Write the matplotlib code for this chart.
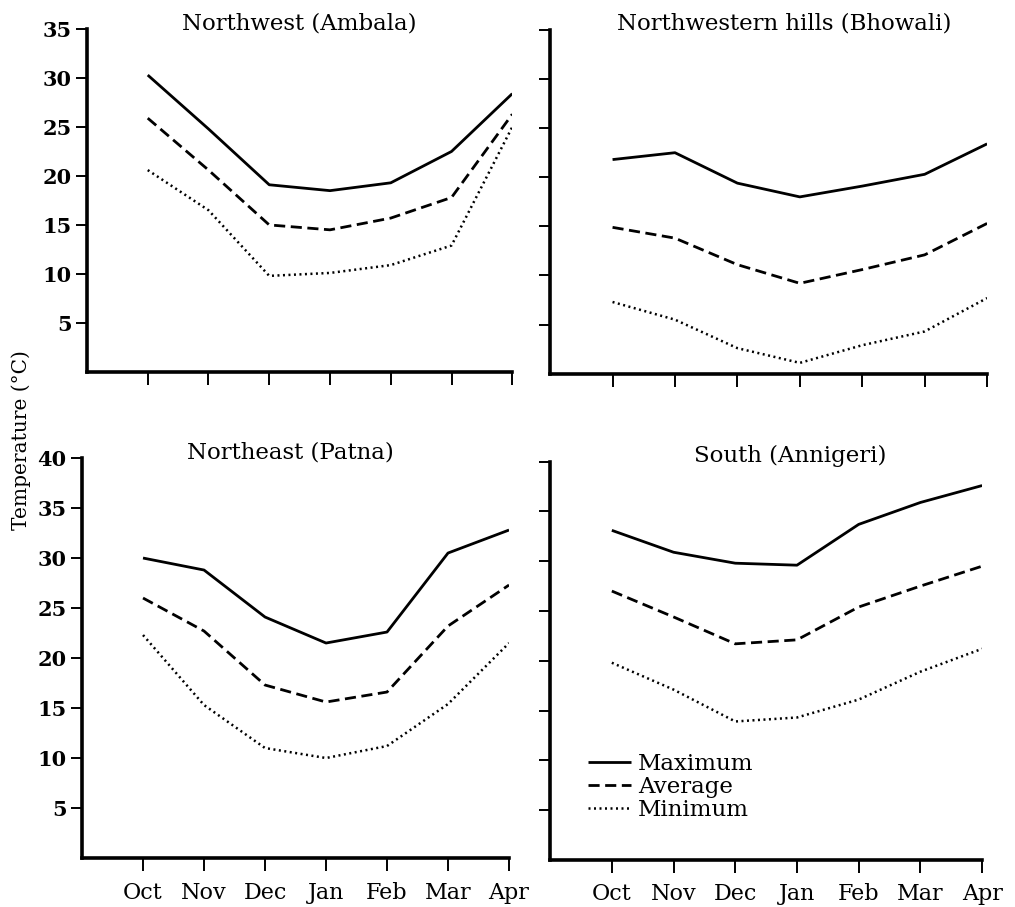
import matplotlib
matplotlib.use("Agg")
import matplotlib.pyplot as plt

plt.rcParams['font.family'] = ['DejaVu Serif']

months = ['Oct', 'Nov', 'Dec', 'Jan', 'Feb', 'Mar', 'Apr']

# Northwest (Ambala)
ambala_max = [30.3, 24.8, 19.1, 18.5, 19.3, 22.5, 28.4]
ambala_avg = [25.9, 20.6, 15.0, 14.5, 15.7, 17.8, 26.3]
ambala_min = [20.6, 16.5, 9.8, 10.1, 10.9, 12.9, 25.0]

# Northwestern hills (Bhowali)
bhowali_max = [21.8, 22.5, 19.4, 18.0, 19.1, 20.3, 23.4]
bhowali_avg = [14.9, 13.8, 11.1, 9.2, 10.6, 12.1, 15.3]
bhowali_min = [7.3, 5.5, 2.6, 1.1, 2.9, 4.3, 7.7]

# Northeast (Patna)
patna_max = [30.0, 28.8, 24.1, 21.5, 22.6, 30.5, 32.8]
patna_avg = [26.0, 22.7, 17.3, 15.6, 16.6, 23.2, 27.3]
patna_min = [22.3, 15.3, 11.0, 10.0, 11.2, 15.4, 21.5]

# South (Annigeri)
annigeri_max = [33.1, 30.9, 29.8, 29.6, 33.7, 35.9, 37.6]
annigeri_avg = [27.0, 24.4, 21.7, 22.1, 25.4, 27.5, 29.5]
annigeri_min = [19.8, 17.1, 13.9, 14.3, 16.1, 18.9, 21.2]

fig = plt.figure(figsize=(10.15, 9.07), dpi=100)

panels = [
    # rect, title, title x, ymax, data, y labels, x labels
    ([0.0857, 0.590, 0.419, 0.378], 'Northwest (Ambala)', 0.50, 35,
     (ambala_max, ambala_avg, ambala_min), True, False),
    ([0.542, 0.588, 0.4305, 0.379], 'Northwestern hills (Bhowali)', 0.535, 35,
     (bhowali_max, bhowali_avg, bhowali_min), False, False),
    ([0.0808, 0.054, 0.4207, 0.441], 'Northeast (Patna)', 0.487, 40,
     (patna_max, patna_avg, patna_min), True, True),
    ([0.542, 0.052, 0.4256, 0.439], 'South (Annigeri)', 0.556, 40,
     (annigeri_max, annigeri_avg, annigeri_min), False, True),
]

x = list(range(len(months)))
for rect, title, tx, ymax, (mx, av, mn), ylab, xlab in panels:
    ax = fig.add_axes(rect)
    ax.plot(x, mx, color='black', lw=2.0, solid_capstyle='butt', label='Maximum')
    ax.plot(x, av, color='black', lw=2.0, dashes=(4, 2), label='Average')
    ax.plot(x, mn, color='black', lw=1.8, dashes=(0.8, 1.4), label='Minimum')
    ax.set_xlim(-1, 6)
    ax.set_ylim(0, ymax)
    ax.spines['top'].set_visible(False)
    ax.spines['right'].set_visible(False)
    ax.spines['left'].set_linewidth(2.6)
    ax.spines['bottom'].set_linewidth(2.6)
    ax.set_yticks(range(5, ymax + 1, 5))
    ax.set_xticks(x)
    ax.tick_params(axis='y', length=8, width=1.4, pad=3, labelsize=15)
    ax.tick_params(axis='x', length=9, width=1.4, pad=8, labelsize=16)
    if ylab:
        for t in ax.get_yticklabels():
            t.set_fontweight('bold')
    else:
        ax.set_yticklabels([])
    if xlab:
        ax.set_xticklabels(months)
    else:
        ax.set_xticklabels([])
    ax.text(tx, 1.0, title, transform=ax.transAxes, ha='center', va='baseline',
            fontsize=16.5)
    if title.startswith('South'):
        ax.legend(loc='lower left', bbox_to_anchor=(0.06, 0.068), frameon=False,
                  fontsize=16.5, handlelength=1.9, handletextpad=0.3,
                  labelspacing=0.05, borderpad=0)

fig.text(0.011, 0.515, 'Temperature (°C)', rotation=90, ha='left', va='center',
         fontsize=14.5)

fig.savefig('out.png', dpi=100)
